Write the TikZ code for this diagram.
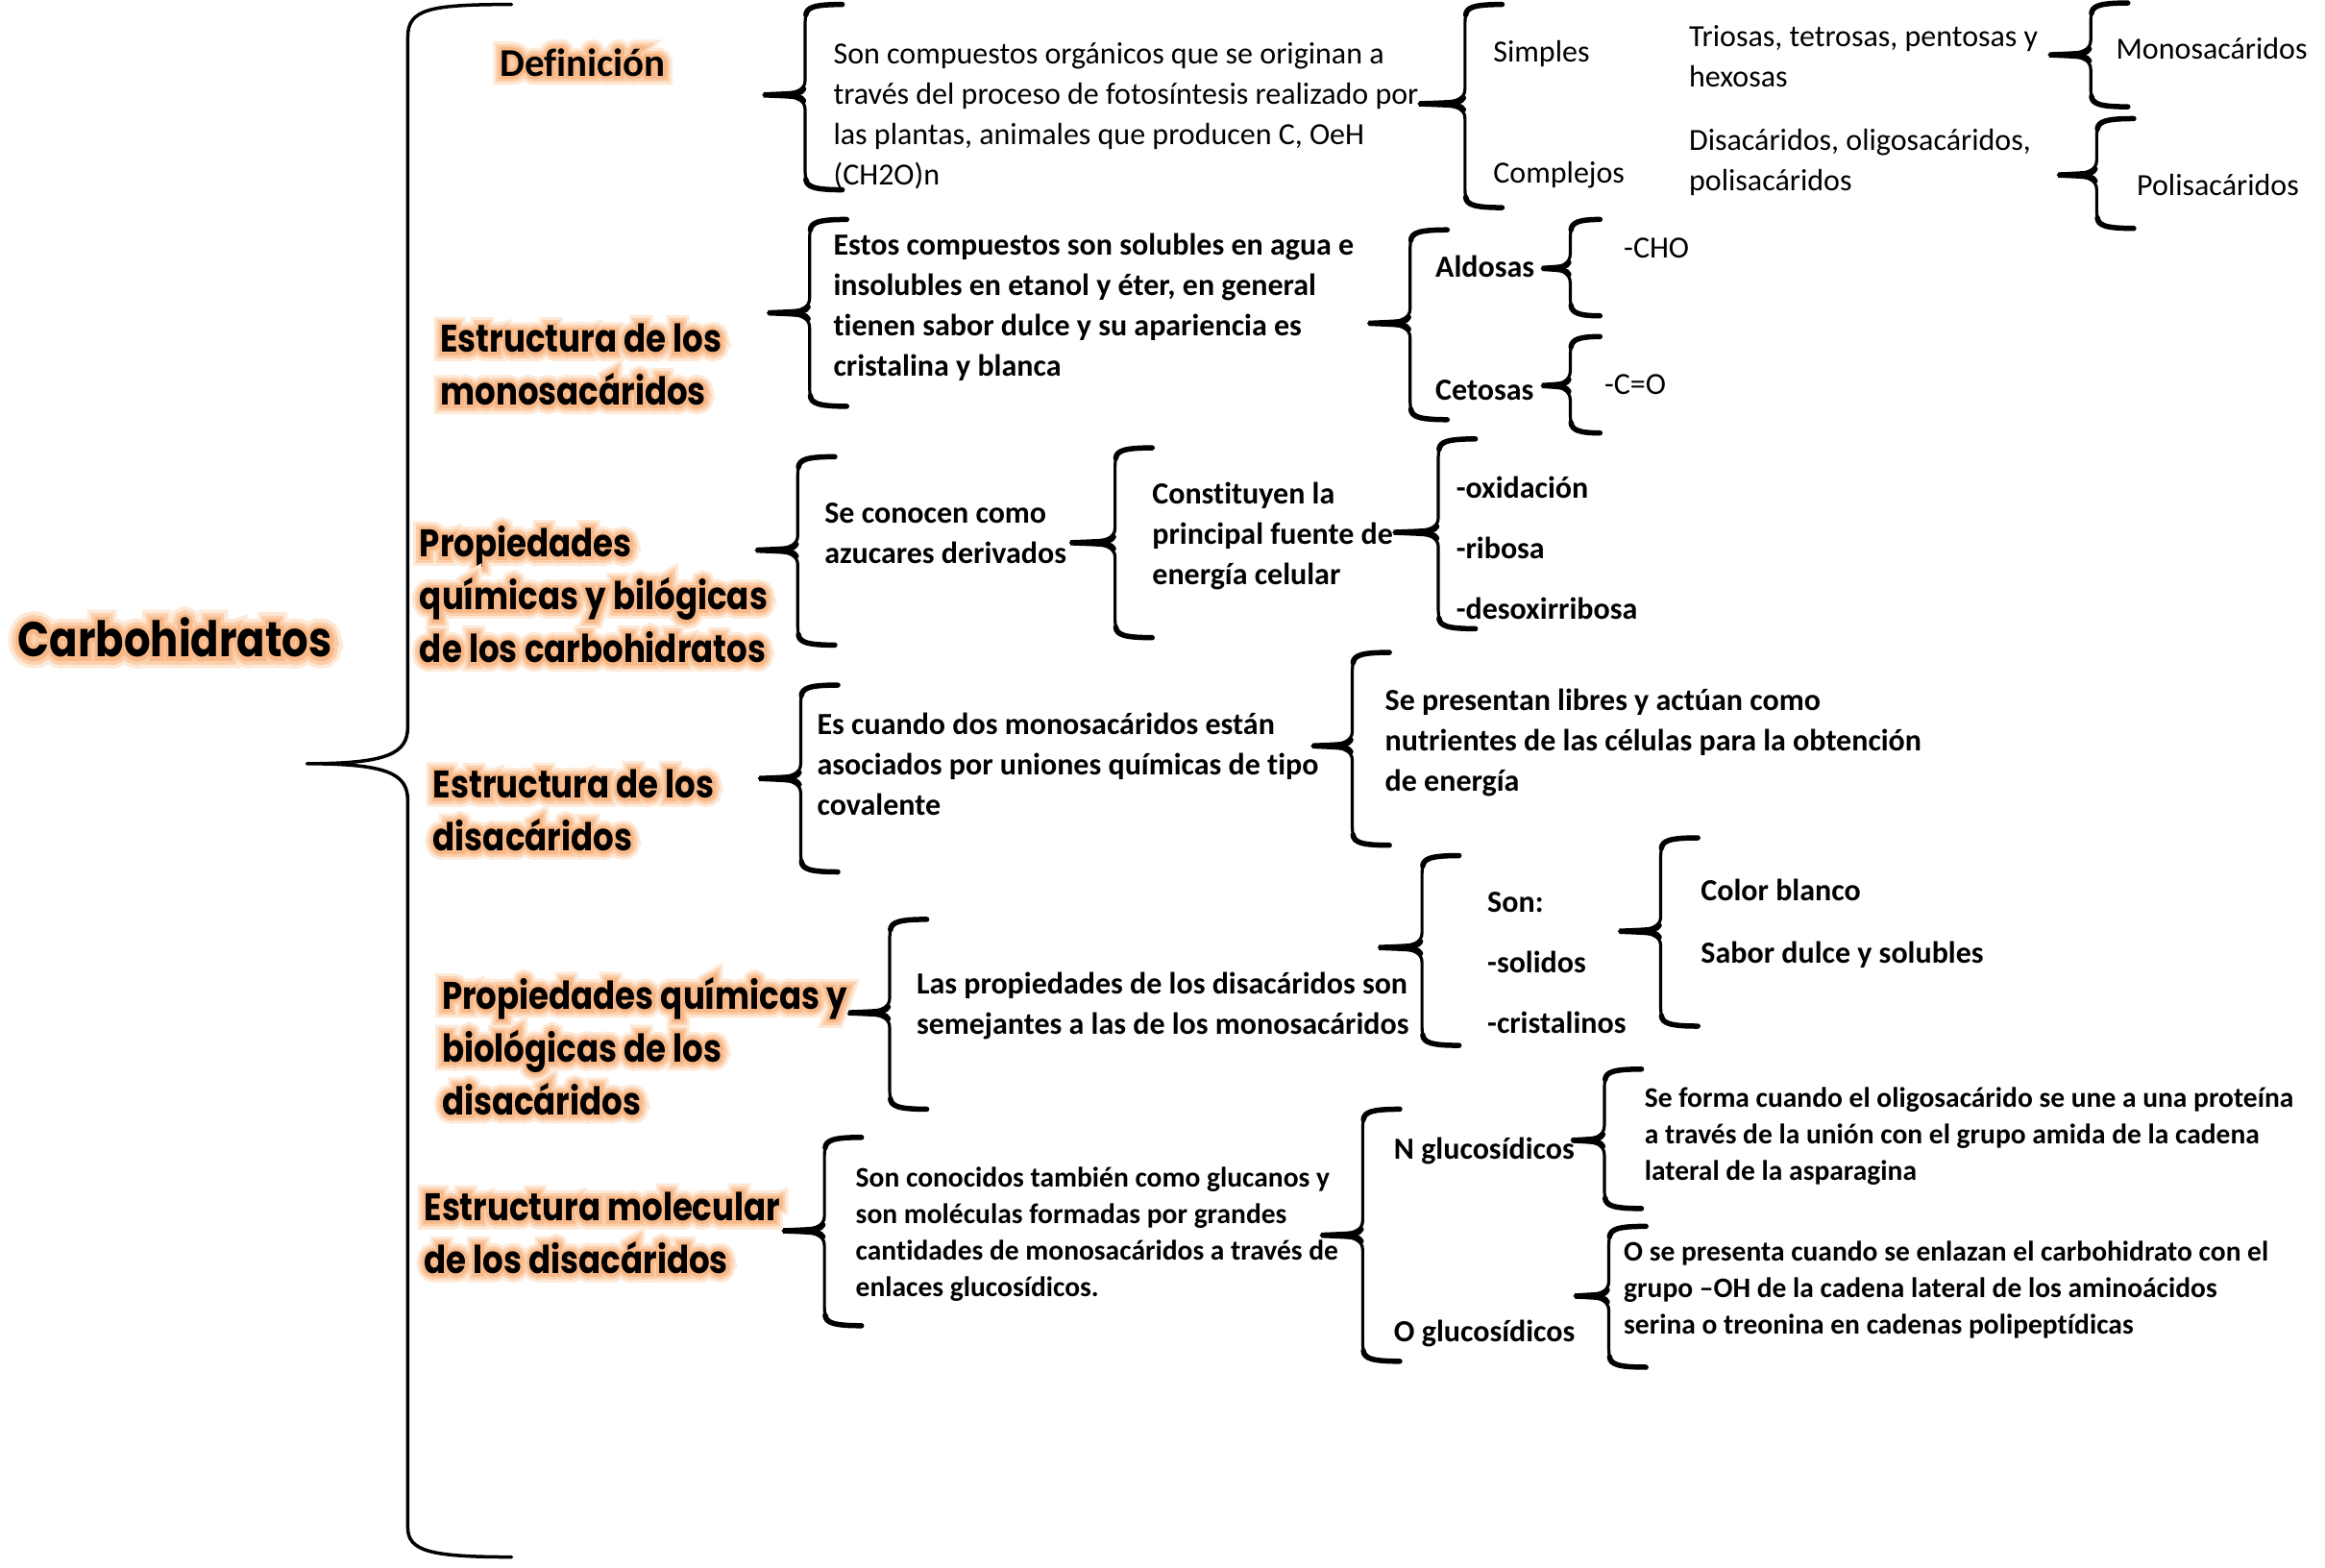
\documentclass[tikz,border=0pt]{standalone}
\usepackage{fontspec}
\usetikzlibrary{calc}
\setmainfont[Ligatures=CommonOff]{Carlito}
\newfontfamily\hfont[FakeStretch=0.85]{Poppins Bold}
\newfontfamily\hglowA[FakeStretch=0.85,FakeBold=45]{Poppins Bold}
\newfontfamily\hglowB[FakeStretch=0.85,FakeBold=30]{Poppins Bold}
\newfontfamily\hglowC[FakeStretch=0.85,FakeBold=16]{Poppins Bold}
\newfontfamily\cbold[Ligatures=CommonOff]{Carlito Bold}
\newfontfamily\cglowA[FakeBold=45,Ligatures=CommonOff]{Carlito Bold}
\newfontfamily\cglowB[FakeBold=30,Ligatures=CommonOff]{Carlito Bold}
\newfontfamily\cglowC[FakeBold=16,Ligatures=CommonOff]{Carlito Bold}
\definecolor{glowa}{RGB}{254,232,214}
\definecolor{glowb}{RGB}{252,207,172}
\definecolor{glowc}{RGB}{249,184,135}
\newcommand\glw[1]{\makebox[0pt][l]{\color{glowa}\hglowA #1}\makebox[0pt][l]{\color{glowb}\hglowB #1}\makebox[0pt][l]{\color{glowc}\hglowC #1}#1}
\newcommand\cglw[1]{\makebox[0pt][l]{\color{glowa}\cglowA #1}\makebox[0pt][l]{\color{glowb}\cglowB #1}\makebox[0pt][l]{\color{glowc}\cglowC #1}#1}
\tikzset{
  brc/.style={line width=3.2pt, line join=round, line cap=round},
  brchook/.style={line width=5.5pt, line cap=round},
  txt/.style={anchor=west, inner sep=0pt, align=left},
  body/.style={txt, font=\fontsize{32}{42}\selectfont},
  bbody/.style={txt, font=\bfseries\fontsize{32}{42}\selectfont},
  sbody/.style={txt, font=\bfseries\fontsize{29.5}{38}\selectfont},
  head/.style={txt, font=\hfont\fontsize{40}{55}\selectfont},
}
% [hook]{x}{top}{bottom}{tipx}{tipy}
\newcommand\brc[6][25]{%
  \draw[brc] (#2+#1,#3) .. controls (#2+4,#3) and (#2,#3+3) .. (#2,#3+12) -- (#2,#6-10)
     .. controls (#2,#6-3) and (#2-6,#6) .. (#5,#6)
     .. controls (#2-6,#6) and (#2,#6+3) .. (#2,#6+10) -- (#2,#4-12)
     .. controls (#2,#4-3) and (#2+4,#4) .. (#2+#1,#4);
  \draw[brchook] (#2+#1,#3) .. controls (#2+6,#3) and (#2+1,#3+2) .. (#2+0.5,#3+7);
  \draw[brchook] (#2+#1,#4) .. controls (#2+6,#4) and (#2+1,#4-2) .. (#2+0.5,#4-7);
  \draw[brchook] (#2-1,#6-4) .. controls (#2-3,#6-1) .. (#5,#6) .. controls (#2-3,#6+1) .. (#2-1,#6+4);
}
\begin{document}
\begin{tikzpicture}[x=1.5434pt,y=-1.5434pt]
\useasboundingbox[fill=white] (0,0) rectangle (1568,1057.4);
% main brace
\draw[brc, line width=3.5pt] (345,3) .. controls (290,3) and (275,6) .. (275,25) -- (275,490)
   .. controls (275,508) and (262,515) .. (207,515)
   .. controls (262,515) and (275,522) .. (275,540) -- (275,1030)
   .. controls (275,1046) and (290,1050) .. (345,1050);
% braces
\brc{543}{3}{128}{515}{64}
\brc{988}{3}{140}{957}{70}
\brc{1410}{2}{72}{1382}{37}
\brc{1414}{80}{154}{1388}{118}
\brc{546}{148}{274}{518}{211}
\brc{951}{155}{283}{923}{218}
\brc[20]{1059}{148}{213}{1040}{181}
\brc[20]{1059}{227}{292}{1040}{260}
\brc{538}{308}{435}{510}{371}
\brc{752}{302}{430}{722}{366}
\brc{970}{296}{424}{940}{359}
\brc{540}{462}{588}{512}{525}
\brc{912}{440}{570}{885}{503}
\brc{600}{620}{748}{572}{683}
\brc{959}{577}{705}{930}{639}
\brc{1120}{565}{692}{1092}{628}
\brc{556}{767}{894}{528}{830}
\brc{919}{748}{918}{891}{833}
\brc{1082}{721}{815}{1060}{769}
\brc{1085}{827}{922}{1062}{874}
% headings
\node[head, font=\hfont\fontsize{51}{60}\selectfont] (carb) at (12,430) {\glw{Carbohidratos}};
\node[txt, font=\cbold\fontsize{41}{48}\selectfont] (def) at (337,42) {\cglw{Definición}};
\node[head] (h1) at (297,246) {\glw{Estructura de los}\\\glw{monosacáridos}};
\node[head] (h2) at (283,401) {\glw{Propiedades}\\\glw{químicas y bilógicas}\\\glw{de los carbohidratos}};
\node[head] (h3) at (292,546.5) {\glw{Estructura de los}\\\glw{disacáridos}};
\node[head] (h4) at (298,705.5) {\glw{Propiedades químicas y}\\\glw{biológicas de los}\\\glw{disacáridos}};
\node[head] (h5) at (286,831.5) {\glw{Estructura molecular}\\\glw{de los disacáridos}};
% definicion branch
\node[body] (t1) at (562,78) {Son compuestos orgánicos que se originan a\\través del proceso de fotosíntesis realizado por\\las plantas, animales que producen C, OeH\\(CH2O)n};
\node[body] (simp) at (1007,36) {Simples};
\node[body] (comp) at (1007,118) {Complejos};
\node[body] (trio) at (1139,38) {Triosas, tetrosas, pentosas y\\hexosas};
\node[body] (disa) at (1139,109.5) {Disacáridos, oligosacáridos,\\polisacáridos};
\node[body] (mono) at (1427,33) {Monosacáridos};
\node[body] (poli) at (1441,125) {Polisacáridos};
% monosacaridos
\node[bbody] (t5) at (562,207.5) {Estos compuestos son solubles en agua e\\insolubles en etanol y éter, en general\\tienen sabor dulce y su apariencia es\\cristalina y blanca};
\node[bbody] (ald) at (968,180) {Aldosas};
\node[bbody] (cet) at (968,263) {Cetosas};
\node[body] (cho) at (1095,167) {-CHO};
\node[body] (co) at (1082,259) {-C=O};
% propiedades
\node[bbody] (t9) at (556,359.5) {Se conocen como\\azucares derivados};
\node[bbody] (t10) at (777,361.5) {Constituyen la\\principal fuente de\\energía celular};
\node[bbody, font=\bfseries\fontsize{32}{63}\selectfont] (ox) at (982,369.5) {-oxidación\\-ribosa\\-desoxirribosa};
% estructura disacaridos
\node[bbody] (t12) at (551,515.5) {Es cuando dos monosacáridos están\\asociados por uniones químicas de tipo\\covalente};
\node[bbody] (t13) at (934,501) {Se presentan libres y actúan como\\nutrientes de las células para la obtención\\de energía};
% propiedades disacaridos
\node[bbody] (t14) at (618,678.5) {Las propiedades de los disacáridos son\\semejantes a las de los monosacáridos};
\node[bbody, font=\bfseries\fontsize{32}{63}\selectfont] (son) at (1003,649) {Son:\\-solidos\\-cristalinos};
\node[bbody, font=\bfseries\fontsize{32}{65}\selectfont] (col) at (1147,623) {Color blanco\\Sabor dulce y solubles};
% estructura molecular
\node[sbody] (t17) at (577,832.5) {Son conocidos también como glucanos y\\son moléculas formadas por grandes\\cantidades de monosacáridos a través de\\enlaces glucosídicos.};
\node[bbody] (ng) at (940,776) {N glucosídicos};
\node[bbody] (og) at (940,899) {O glucosídicos};
\node[sbody] (tn) at (1109,766.5) {Se forma cuando el oligosacárido se une a una proteína\\a través de la unión con el grupo amida de la cadena\\lateral de la asparagina};
\node[sbody] (to) at (1095,869.5) {O se presenta cuando se enlazan el carbohidrato con el\\grupo –OH de la cadena lateral de los aminoácidos\\serina o treonina en cadenas polipeptídicas};
\end{tikzpicture}
\end{document}
